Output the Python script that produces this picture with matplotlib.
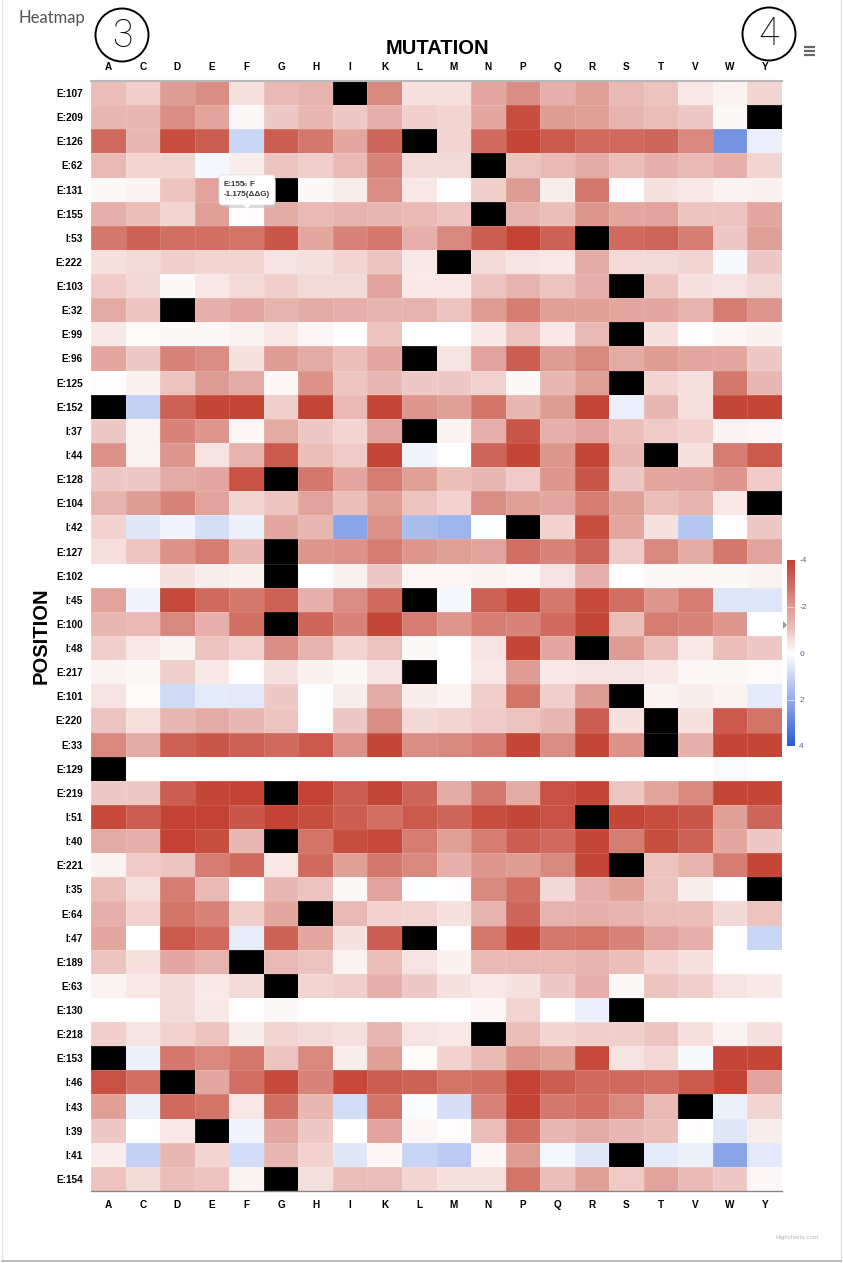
import numpy as np
import matplotlib
matplotlib.use('Agg')
import matplotlib.pyplot as plt
from matplotlib.colors import LinearSegmentedColormap
from matplotlib.patches import Ellipse, FancyBboxPatch, Polygon

n = np.nan

mutations = ['A', 'C', 'D', 'E', 'F', 'G', 'H', 'I', 'K', 'L', 'M', 'N', 'P', 'Q', 'R', 'S', 'T', 'V', 'W', 'Y']
positions = ['E:107', 'E:209', 'E:126', 'E:62', 'E:131', 'E:155', 'I:53', 'E:222', 'E:103', 'E:32', 'E:99', 'E:96',
             'E:125', 'E:152', 'I:37', 'I:44', 'E:128', 'E:104', 'I:42', 'E:127', 'E:102', 'I:45', 'E:100', 'I:48',
             'E:217', 'E:101', 'E:220', 'E:33', 'E:129', 'E:219', 'I:51', 'I:40', 'E:221', 'I:35', 'E:64', 'I:47',
             'E:189', 'E:63', 'E:130', 'E:218', 'E:153', 'I:46', 'I:43', 'I:39', 'I:41', 'E:154']

ddg = [
    [-1.1, -0.8, -2.0, -2.3, -0.5, -1.2, -1.4, n, -2.4, -0.5, -0.5, -1.7, -2.3, -1.5, -1.9, -1.2, -1.0, -0.4, -0.2, -0.7],
    [-1.3, -1.3, -2.3, -1.8, -0.1, -0.9, -1.3, -0.9, -1.5, -0.8, -0.7, -1.7, -3.7, -2.0, -1.9, -1.4, -1.1, -0.9, -0.1, n],
    [-3.0, -1.3, -3.7, -3.3, 1.0, -3.3, -2.7, -1.7, -3.1, n, -0.7, -3.0, -3.9, -3.4, -3.0, -3.0, -3.1, -2.4, 2.6, 0.4],
    [-1.2, -0.7, -0.7, 0.2, -0.3, -1.0, -0.8, -1.2, -2.5, -0.6, -0.6, n, -1.0, -1.2, -1.6, -1.1, -1.5, -1.2, -1.5, -0.7],
    [-0.1, -0.2, -1.0, -1.8, -1.2, n, -0.1, -0.3, -2.3, -0.4, -0.05, -0.8, -2.0, -0.3, -2.7, -0.05, -0.5, -0.4, -0.2, -0.25],
    [-1.5, -1.1, -0.7, -1.9, -0.05, -1.6, -1.2, -1.4, -1.3, -1.2, -1.0, n, -1.4, -1.1, -2.1, -1.7, -1.8, -1.0, -1.0, -1.7],
    [-2.7, -3.2, -2.9, -2.9, -2.8, -3.5, -1.7, -2.5, -2.7, -1.5, -2.4, -3.3, -4.0, -3.2, n, -3.0, -3.1, -2.6, -0.9, -1.9],
    [-0.5, -0.6, -0.8, -0.7, -0.7, -0.45, -0.5, -0.7, -1.0, -0.35, n, -0.6, -0.45, -0.4, -1.6, -0.6, -0.6, -0.7, 0.15, -0.9],
    [-0.85, -0.65, -0.1, -0.4, -0.6, -0.8, -0.6, -0.6, -1.8, -0.35, -0.4, -1.0, -1.4, -1.0, -1.5, n, -1.0, -0.5, -0.45, -0.65],
    [-1.6, -1.0, n, -1.5, -1.7, -1.4, -1.6, -1.5, -1.4, -1.4, -1.0, -2.0, -2.6, -1.9, -1.9, -1.7, -1.7, -1.4, -2.6, -2.1],
    [-0.35, -0.08, -0.1, -0.1, -0.2, -0.4, -0.15, -0.05, -1.0, 0, 0, -0.35, -1.0, -0.4, -1.2, n, -0.5, -0.05, -0.15, -0.25],
    [-1.7, -0.9, -2.5, -2.3, -0.5, -2.0, -1.6, -1.1, -1.7, n, -0.45, -1.8, -3.3, -2.0, -2.4, -1.6, -2.0, -1.7, -1.7, -0.9],
    [-0.05, -0.25, -1.0, -2.0, -1.6, -0.15, -2.2, -0.95, -1.3, -0.9, -0.9, -0.75, -0.1, -1.3, -1.9, n, -0.7, -0.55, -2.7, -1.3],
    [n, 1.1, -3.2, -3.9, -3.9, -0.8, -3.9, -1.2, -3.9, -2.1, -1.9, -2.8, -1.3, -2.0, -3.9, 0.4, -1.3, -0.55, -3.9, -3.9],
    [-0.9, -0.2, -2.5, -2.1, -0.15, -1.6, -0.9, -0.7, -1.8, n, -0.2, -1.5, -3.5, -1.5, -1.8, -1.1, -0.85, -0.75, -0.2, -0.15],
    [-2.2, -0.2, -2.1, -0.45, -1.4, -3.4, -1.1, -0.85, -3.9, 0.25, 0.0, -3.1, -3.9, -2.1, -3.9, -1.3, n, -0.5, -2.6, -3.4],
    [-0.9, -0.9, -1.6, -1.7, -3.6, n, -2.7, -1.7, -2.6, -1.9, -1.1, -1.3, -0.85, -2.1, -3.5, -0.9, -1.7, -1.8, -2.1, -0.85],
    [-1.4, -2.0, -2.5, -1.8, -0.7, -1.0, -1.8, -1.1, -1.9, -1.0, -0.75, -2.3, -1.9, -1.7, -2.6, -1.9, -1.1, -1.4, -0.4, n],
    [-0.75, 0.6, 0.25, 0.8, 0.35, -1.7, -1.3, 2.2, -2.2, 1.6, 1.8, 0.05, n, -0.75, -3.7, -1.7, -0.5, 1.4, 0.0, -0.9],
    [-0.55, -0.95, -2.2, -2.6, -1.3, n, -2.1, -2.2, -2.6, -2.1, -1.9, -1.8, -2.9, -2.5, -3.1, -0.85, -2.4, -1.6, -2.7, -1.8],
    [-0.03, -0.05, -0.5, -0.3, -0.25, n, 0, -0.25, -0.9, -0.15, -0.15, -0.2, -0.15, -0.45, -1.5, 0, -0.1, -0.15, -0.1, -0.2],
    [-1.8, 0.25, -3.8, -3.0, -2.7, -3.2, -1.5, -2.3, -3.0, n, 0.2, -3.2, -3.9, -2.7, -3.8, -2.9, -2.1, -2.6, 0.65, 0.65],
    [-1.3, -1.2, -2.4, -1.5, -2.9, n, -3.1, -2.5, -3.9, -2.6, -2.1, -2.6, -2.5, -3.0, -3.9, -1.1, -2.6, -2.5, -2.1, 0],
    [-0.8, -0.4, -0.2, -1.0, -0.75, -2.3, -1.4, -0.7, -1.0, -0.1, 0, -0.45, -3.9, -1.7, n, -2.0, -1.1, -0.4, -1.1, -0.9],
    [-0.2, -0.1, -0.8, -0.35, -0.03, -0.5, -0.25, -0.1, -0.45, n, 0, -0.4, -2.0, -0.35, -0.45, -0.45, -0.35, -0.15, -0.1, -0.07],
    [-0.45, -0.08, 0.9, 0.5, 0.55, -0.9, -0.03, -0.3, -1.6, -0.3, -0.2, -0.8, -2.8, -0.8, -2.0, n, -0.2, -0.3, -0.2, 0.5],
    [-1.0, -0.55, -1.3, -1.6, -1.3, -1.0, 0, -0.9, -2.3, -0.65, -0.7, -0.85, -1.0, -1.3, -3.3, -0.5, n, -0.5, -3.4, -2.8],
    [-2.4, -1.6, -3.2, -3.5, -3.2, -3.0, -3.4, -2.2, -3.9, -2.3, -2.4, -2.6, -3.9, -2.3, -3.9, -2.2, n, -1.5, -3.9, -3.9],
    [n, 0, 0, 0, 0.03, 0, 0, 0.05, 0, 0, 0.02, 0.03, 0.05, 0, 0, 0, 0, 0, 0.1, 0],
    [-0.9, -0.9, -3.3, -3.9, -3.95, n, -3.95, -3.3, -3.9, -3.1, -1.6, -2.7, -1.6, -3.6, -3.9, -0.95, -1.8, -2.4, -3.9, -3.9],
    [-3.8, -3.3, -4, -4, -3.5, -3.95, -3.7, -3.3, -2.9, -3.4, -3.1, -3.7, -3.9, -3.6, n, -3.9, -3.7, -3.5, -1.9, -3.1],
    [-1.6, -1.5, -4, -3.7, -1.3, n, -2.8, -3.7, -3.8, -2.6, -1.9, -2.6, -3.3, -3.0, -3.9, -2.6, -3.7, -3.2, -1.7, -0.9],
    [-0.2, -0.85, -1.0, -2.6, -3.0, -0.4, -3.0, -1.9, -2.7, -2.4, -1.5, -2.1, -2.0, -2.4, -3.9, n, -1.0, -1.4, -2.6, -3.9],
    [-1.1, -0.55, -2.6, -1.2, 0, -1.3, -1.0, -0.1, -1.8, 0.05, -0.05, -2.4, -2.9, -0.65, -1.5, -1.9, -1.0, -0.3, -0.05, n],
    [-1.5, -0.75, -2.8, -2.5, -0.8, -1.7, n, -1.2, -0.75, -0.7, -0.5, -1.4, -3.1, -1.4, -1.5, -1.4, -1.1, -1.1, -0.65, -1.0],
    [-1.7, 0, -3.4, -3.0, 0.45, -3.2, -1.7, -0.5, -3.3, n, 0, -2.7, -3.9, -2.7, -2.8, -2.5, -1.8, -1.5, -0.03, 1.0],
    [-1.0, -0.55, -1.7, -1.4, n, -1.2, -1.0, -0.2, -1.1, -0.45, -0.25, -1.2, -1.2, -1.2, -1.4, -1.1, -0.7, -0.5, -0.03, -0.03],
    [-0.2, -0.4, -0.6, -0.35, -0.6, n, -0.7, -0.8, -1.5, -0.9, -0.5, -0.4, -0.5, -0.9, -1.5, -0.1, -1.0, -0.8, -0.45, -0.35],
    [-0.03, 0, -0.6, -0.35, 0, -0.1, 0, -0.02, 0.01, 0, 0, -0.15, -0.7, -0.03, 0.4, n, -0.03, 0, 0, 0],
    [-0.8, -0.45, -0.75, -1.0, -0.3, -0.7, -0.6, -0.55, -1.3, -0.45, -0.4, n, -1.1, -0.7, -0.8, -0.8, -1.0, -0.55, -0.2, -0.5],
    [n, 0.35, -2.7, -2.4, -2.7, -1.0, -2.4, -0.3, -1.9, -0.08, -0.75, -1.2, -2.2, -1.9, -3.8, -0.45, -0.65, 0.15, -3.9, -3.9],
    [-3.6, -2.9, n, -1.7, -2.9, -3.8, -2.5, -3.8, -3.3, -3.2, -2.8, -2.9, -4, -3.3, -3.0, -3.0, -2.9, -3.4, -3.95, -1.8],
    [-1.9, 0.35, -3.0, -2.8, -0.4, -2.9, -1.3, 0.85, -2.8, 0.07, 0.75, -2.5, -3.95, -2.7, -2.9, -2.4, -1.2, n, 0.35, -0.7],
    [-0.9, 0, -0.4, n, 0.25, -1.7, -0.9, -0.03, -1.8, -0.15, -0.05, -1.1, -2.9, -1.3, -1.6, -1.3, -1.1, -0.05, 0.6, -0.3],
    [-0.3, 1.1, -1.3, -0.7, 0.85, -1.3, -0.75, 0.6, -0.15, 1.05, 1.3, -0.15, -2.0, 0.2, 0.6, n, 0.5, 0.35, 2.2, 0.55],
    [-1.0, -0.6, -1.1, -1.0, -0.2, n, -0.55, -1.1, -1.15, -0.7, -0.5, -0.5, -2.8, -1.1, -1.9, -0.85, -1.8, -1.2, -0.9, -0.15],
]

legend_ticks = [-4, -2, 0, 2, 4]

W, H = 843, 1263


def pixel_axes(fig, left, top, right, bottom):
    return fig.add_axes([left / W, 1 - bottom / H, (right - left) / W, (bottom - top) / H])


def main():
    plt.rcParams['font.family'] = ['Liberation Sans', 'DejaVu Sans']
    fig = plt.figure(figsize=(W / 100, H / 100), dpi=100, facecolor='white')

    # Overlay in pixel coordinates for the page furniture.
    page = fig.add_axes([0, 0, 1, 1], zorder=0)
    page.set_xlim(0, W)
    page.set_ylim(H, 0)
    page.axis('off')
    page.plot([2, 2], [0, 1260], color='#e2e2e2', lw=1.0)
    page.plot([841, 841], [0, 1260], color='#e2e2e2', lw=1.0)
    page.plot([2, 841], [1260.5, 1260.5], color='#b0b0b0', lw=1.2)

    # Slightly stronger than linear between the ends, as the legend bar shows.
    cmap = LinearSegmentedColormap.from_list('ddg', [
        (0.0, '#c34233'), (0.125, '#d06a5f'), (0.25, '#df9c94'), (0.375, '#ecc2bd'),
        (0.5, '#ffffff'), (1.0, '#2a5bd3')])
    cmap.set_bad('black')

    values = np.array(ddg, dtype=float)
    ax = pixel_axes(fig, 91, 81, 782, 1191)
    ax.set_zorder(1)
    ax.pcolormesh(np.ma.masked_invalid(values), cmap=cmap, vmin=-4, vmax=4,
                  edgecolors=(1, 1, 1, 0.12), linewidth=0.5)
    ax.set_xlim(0, len(mutations))
    ax.set_ylim(len(positions), 0)
    ax.set_xticks(np.arange(len(mutations)) + 0.5)
    ax.set_xticklabels(mutations, fontsize=7.2, fontweight='bold', color='black')
    ax.set_yticks(np.arange(len(positions)) + 0.5)
    ax.set_yticklabels(positions, fontsize=7.2, fontweight='bold', color='black')
    ax.tick_params(axis='x', length=0, top=True, labeltop=True, bottom=True, labelbottom=True, pad=6.5)
    ax.tick_params(axis='y', length=0, pad=6)
    for side in ['left', 'right']:
        ax.spines[side].set_visible(False)
    ax.spines['top'].set_color('#b8b8b8')
    ax.spines['top'].set_linewidth(1.5)
    ax.spines['bottom'].set_color('#888888')
    ax.spines['bottom'].set_linewidth(1.0)

    # Legend colour bar.
    cax = pixel_axes(fig, 787, 560, 795, 746)
    cax.set_zorder(1)
    cax.imshow(np.linspace(-4, 4, 256).reshape(-1, 1), cmap=cmap, vmin=-4, vmax=4,
               aspect='auto', extent=[0, 1, 4, -4])
    cax.set_xticks([])
    cax.set_yticks(legend_ticks)
    cax.yaxis.tick_right()
    cax.set_yticklabels([str(t) for t in legend_ticks], fontsize=6, color='#5a6a8a')
    cax.tick_params(axis='y', length=0, pad=3)
    for t in [-2, 2]:
        cax.axhline(t, color='white', lw=0.6, alpha=0.6)
    for spine in cax.spines.values():
        spine.set_visible(False)

    # Everything drawn on top of the plot goes on a second pixel overlay.
    top = fig.add_axes([0, 0, 1, 1], zorder=2)
    top.set_xlim(0, W)
    top.set_ylim(H, 0)
    top.axis('off')
    top.patch.set_alpha(0)

    top.text(18, 18, 'Heatmap', fontsize=12, color='#555555', family=['Lato', 'DejaVu Sans'],
             ha='left', va='center')
    top.text(437, 48, 'MUTATION', fontsize=14.5, fontweight='bold', ha='center', va='center')
    top.text(41, 636, 'POSITION', fontsize=14.5, fontweight='bold', rotation=90, ha='center', va='center')
    top.text(797, 1238, 'Highcharts.com', fontsize=4.5, color='#b5b5b5', ha='center', va='center')

    # Hand drawn annotations.
    top.add_patch(Ellipse((122, 35), 53, 53, fill=False, ec='black', lw=1.4))
    top.add_patch(Ellipse((769, 34), 53, 53, fill=False, ec='black', lw=1.4))
    top.text(122, 36, '3', fontsize=27, family=['Roboto', 'DejaVu Sans'], fontweight='light',
             color='black', ha='center', va='center')
    top.text(769, 34, '4', fontsize=27, family=['Roboto', 'DejaVu Sans'], fontweight='light',
             color='black', ha='center', va='center')

    # Export menu icon.
    for y in [47, 51, 55]:
        top.plot([804, 815], [y, y], color='#666666', lw=1.6, solid_capstyle='butt')

    # Legend value marker.
    top.add_patch(Polygon([[783, 621], [787, 625], [783, 629]], color='#999999', lw=0))

    # Tooltip.
    top.add_patch(FancyBboxPatch((222, 178), 54, 30, boxstyle='round,pad=0,rounding_size=3',
                                 fc='#c4c4c4', ec='none', alpha=0.6))
    top.add_patch(FancyBboxPatch((219, 175), 56, 30, boxstyle='round,pad=0,rounding_size=3',
                                 fc='white', ec='#dddddd', lw=0.5))
    top.add_patch(Polygon([[243, 204.5], [247, 209], [251, 204.5]], color='white', lw=0))
    top.text(224, 185, 'E:155', fontsize=5.8, fontweight='bold', color='#333333', ha='left', va='center')
    top.text(243, 185, 'to', fontsize=4.4, color='#333333', ha='left', va='center')
    top.text(250, 185, 'F', fontsize=5.8, fontweight='bold', color='#333333', ha='left', va='center')
    top.text(224, 195, '-1.175(\u0394\u0394G)', fontsize=5.8, fontweight='bold', color='#333333', ha='left', va='center')

    fig.savefig('out.png', dpi=100)


if __name__ == '__main__':
    main()
